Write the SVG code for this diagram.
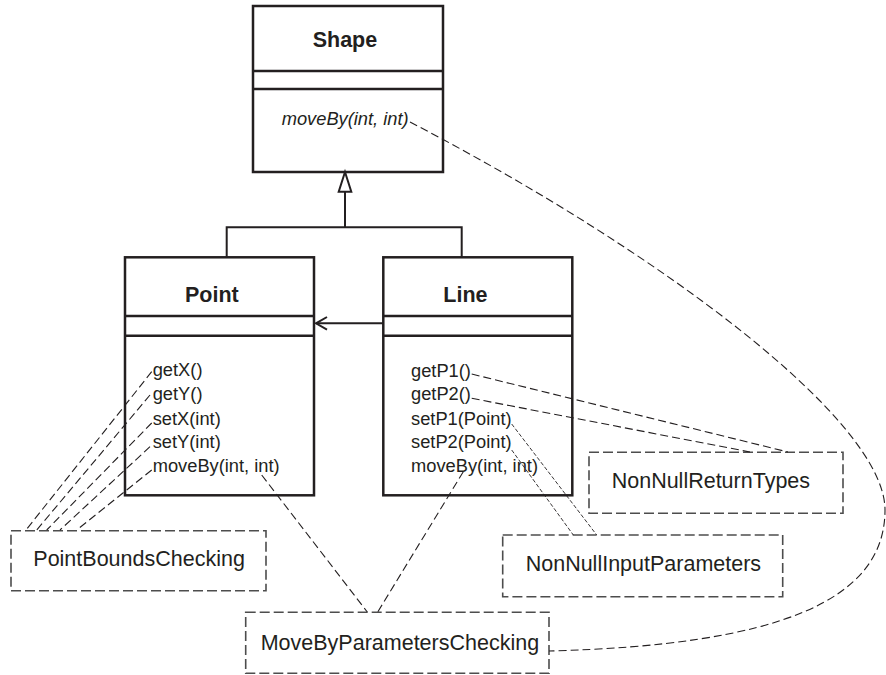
<svg xmlns="http://www.w3.org/2000/svg" width="886" height="675" viewBox="0 0 886 675">
<style>
.cls{fill:#fff;stroke:#231f20;stroke-width:2.5}
.div{stroke:#231f20;stroke-width:2.5}
.title{font-family:"Liberation Sans",Arial,sans-serif;font-weight:bold;font-size:21.5px;fill:#231f20}
.m{font-family:"Liberation Sans",Arial,sans-serif;font-size:18.3px;fill:#231f20}
.note{fill:#fff;stroke:#4d4d4d;stroke-width:1.6;stroke-dasharray:10,4}
.nt{font-family:"Liberation Sans",Arial,sans-serif;font-size:21.5px;fill:#231f20}
.solid{fill:none;stroke:#231f20;stroke-width:2}
.dash{fill:none;stroke:#231f20;stroke-width:1.1;stroke-dasharray:8,4}
.sdash{fill:none;stroke:#231f20;stroke-width:0.9;stroke-dasharray:4,2}
</style>
<g id="Shape">
  <rect class="cls" x="253" y="6" width="190" height="166"/>
  <line class="div" x1="253" y1="71" x2="443" y2="71"/>
  <line class="div" x1="253" y1="89" x2="443" y2="89"/>
  <text class="title" x="312.7" y="46.7">Shape</text>
  <text class="m" x="281.7" y="125" font-style="italic">moveBy(int, int)</text>
</g>
<g id="Point">
  <rect class="cls" x="125" y="257.3" width="189" height="238"/>
  <line class="div" x1="125" y1="316" x2="314" y2="316"/>
  <line class="div" x1="125" y1="335.7" x2="314" y2="335.7"/>
  <text class="title" x="185" y="301.7">Point</text>
  <text class="m" x="152.7" y="376">getX()</text>
  <text class="m" x="152.7" y="400">getY()</text>
  <text class="m" x="152.7" y="424.5">setX(int)</text>
  <text class="m" x="152.7" y="448.3">setY(int)</text>
  <text class="m" x="152.7" y="471.7">moveBy(int, int)</text>
</g>
<g id="Line">
  <rect class="cls" x="383.3" y="257.3" width="189" height="238"/>
  <line class="div" x1="383.3" y1="316" x2="572.3" y2="316"/>
  <line class="div" x1="383.3" y1="335.7" x2="572.3" y2="335.7"/>
  <text class="title" x="443.3" y="301.7">Line</text>
  <text class="m" x="411" y="376.7">getP1()</text>
  <text class="m" x="411" y="400.3">getP2()</text>
  <text class="m" x="411" y="424.5">setP1(Point)</text>
  <text class="m" x="411" y="448.3">setP2(Point)</text>
  <text class="m" x="411" y="471.7">moveBy(int, int)</text>
</g>
<g id="PointBoundsChecking">
  <rect class="note" x="11" y="530.7" width="255" height="60"/>
  <text class="nt" x="33.3" y="565.7">PointBoundsChecking</text>
</g>
<g id="NonNullReturnTypes">
  <rect class="note" x="589" y="452.3" width="254" height="61"/>
  <text class="nt" x="611.7" y="488.3">NonNullReturnTypes</text>
</g>
<g id="NonNullInputParameters">
  <rect class="note" x="502.7" y="535" width="280" height="61.7"/>
  <text class="nt" x="525.7" y="571">NonNullInputParameters</text>
</g>
<g id="MoveByParametersChecking">
  <rect class="note" x="245.7" y="612.3" width="303.3" height="61"/>
  <text class="nt" x="260.7" y="650">MoveByParametersChecking</text>
</g>
<g id="connectors">
  <path class="solid" d="M345,191.7 V227.3 M226.7,227.3 H461.7 M226.7,226.3 V257.3 M461.7,226.3 V257.3"/>
  <path d="M345,172 L338.7,191.7 H351.3 Z" fill="#fff" stroke="#231f20" stroke-width="2"/>
  <path class="solid" d="M383.3,323.3 H316"/>
  <path class="solid" d="M327,317 L316,323.3 L327,329.6"/>
  <path class="dash" d="M151.7,371.7 L26,530"/>
  <path class="dash" d="M150,395 L36.7,530"/>
  <path class="dash" d="M151.7,423 L46.7,530"/>
  <path class="dash" d="M150,446.7 L60,530"/>
  <path class="dash" d="M151.7,470 L76.7,530"/>
  <path class="dash" d="M261.7,475 L367.3,612"/>
  <path class="dash" d="M463.3,471.7 L377.7,612"/>
  <path class="dash" d="M471.7,374 L788,452"/>
  <path class="dash" d="M471.7,398.3 L750,452"/>
  <path class="sdash" d="M511.7,424 L596.7,535"/>
  <path class="sdash" d="M511.7,450 L573.3,535"/>
  <path class="dash" d="M410,122 C660,252 885,420 885,510 C885,600 780,645 549,651"/>
</g>
</svg>
